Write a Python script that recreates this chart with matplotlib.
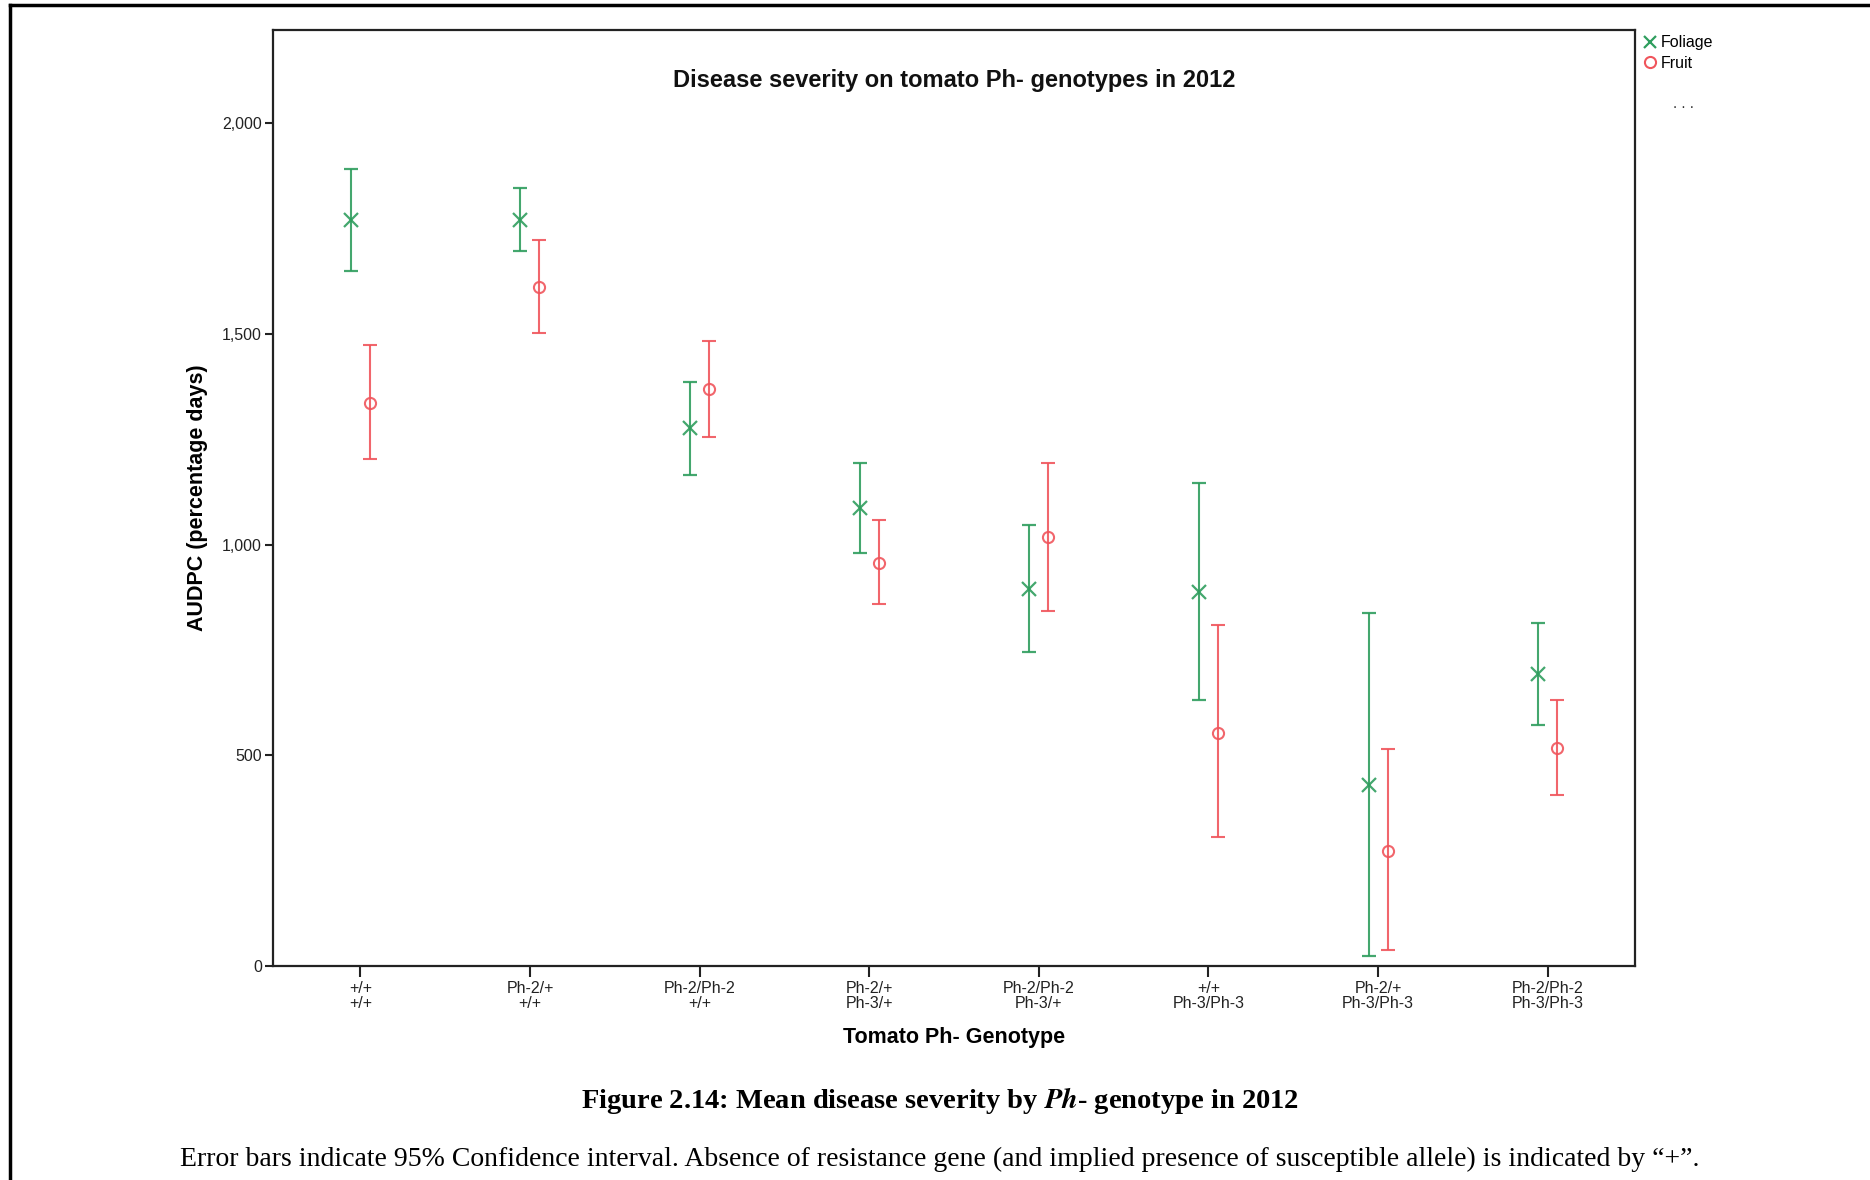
import matplotlib
matplotlib.use("Agg")
import matplotlib.pyplot as plt
import numpy as np
from matplotlib.lines import Line2D
from matplotlib.ticker import FuncFormatter

# ---- data ----
genotype_ph2 = ['+/+', 'Ph-2/+', 'Ph-2/Ph-2', 'Ph-2/+', 'Ph-2/Ph-2', '+/+', 'Ph-2/+', 'Ph-2/Ph-2']
genotype_ph3 = ['+/+', '+/+', '+/+', 'Ph-3/+', 'Ph-3/+', 'Ph-3/Ph-3', 'Ph-3/Ph-3', 'Ph-3/Ph-3']

foliage_mean = [1771, 1771, 1276, 1086, 894, 888, 430, 693]
foliage_low = [1649, 1697, 1166, 979, 744, 631, 23, 571]
foliage_high = [1890, 1847, 1386, 1194, 1047, 1146, 837, 815]

fruit_mean = [1335, 1612, 1369, 956, 1018, 554, 274, 518]
fruit_low = [1202, 1502, 1256, 860, 843, 305, 37, 405]
fruit_high = [1474, 1723, 1482, 1058, 1194, 809, 515, 631]

yticks = [0, 500, 1000, 1500, 2000]

GREEN = '#2f9e5e'
RED = '#f0555c'

plt.rcParams['font.family'] = ['Liberation Sans', 'DejaVu Sans']
plt.rcParams['mathtext.fontset'] = 'stix'

fig = plt.figure(figsize=(18.7, 11.8), dpi=100)
ax = fig.add_axes([273 / 1870, 214 / 1180, (1635 - 273) / 1870, (966 - 30) / 1180])

x = np.arange(len(genotype_ph2))
off = 0.056

fm = np.array(foliage_mean)
ax.errorbar(x - off, fm, yerr=[fm - np.array(foliage_low), np.array(foliage_high) - fm],
            fmt='x', color=GREEN, ecolor=GREEN, elinewidth=1.5, capsize=5, capthick=1.5,
            markersize=10, markeredgewidth=1.6, alpha=0.9)
fr = np.array(fruit_mean)
ax.errorbar(x + off, fr, yerr=[fr - np.array(fruit_low), np.array(fruit_high) - fr],
            fmt='o', color=RED, ecolor=RED, elinewidth=1.5, capsize=5, capthick=1.5,
            markersize=8, markeredgewidth=1.5, markerfacecolor='none', alpha=0.9)

ax.set_xlim(-0.515, 7.515)
ax.set_ylim(0, 2221)
ax.set_yticks(yticks)
ax.yaxis.set_major_formatter(FuncFormatter(lambda v, p: f'{int(v):,}'))
ax.set_xticks(x)
ax.set_xticklabels([f'{a}\n{b}' for a, b in zip(genotype_ph2, genotype_ph3)],
                   fontsize=11.5, linespacing=0.95)
ax.tick_params(axis='y', direction='out', length=6, width=1.5, labelsize=11.5, pad=2, colors='#222222')
ax.tick_params(axis='x', direction='out', length=8, width=1.5, pad=3, colors='#222222')
for s in ax.spines.values():
    s.set_linewidth(1.6)
    s.set_color('#222222')

ax.set_title('Disease severity on tomato Ph- genotypes in 2012', fontsize=17, fontweight='bold',
             y=0.937, va='center', color='#111111')
ax.set_ylabel('AUDPC (percentage days)', fontsize=15.5, fontweight='bold', labelpad=10)
ax.set_xlabel('Tomato Ph- Genotype', fontsize=15.5, fontweight='bold', labelpad=12)

handles = [Line2D([], [], linestyle='none', marker='x', color=GREEN, markersize=9, markeredgewidth=1.6),
           Line2D([], [], linestyle='none', marker='o', color=RED, markersize=8,
                  markerfacecolor='none', markeredgewidth=1.5)]
fig.legend(handles, ['Foliage', 'Fruit'], loc='upper left',
           bbox_to_anchor=(1634 / 1870, 1 - 29 / 1180), frameon=False, fontsize=11.5,
           handletextpad=0.1, labelspacing=0.35, handlelength=1.2, borderaxespad=0)
fig.text(1683 / 1870, 1 - 104 / 1180, '. . .', ha='center', va='center', fontsize=11, color='#333333')

# captions
fig.text(940 / 1870, 1 - 1101 / 1180,
         r'Figure 2.14: Mean disease severity by $\mathbfit{Ph}$- genotype in 2012',
         ha='center', va='center', fontsize=20.5, fontweight='bold', family='Liberation Serif')
fig.text(940 / 1870, 1 - 1159 / 1180,
         'Error bars indicate 95% Confidence interval. Absence of resistance gene (and implied presence of susceptible allele) is indicated by \u201c+\u201d.',
         ha='center', va='center', fontsize=20, family='Liberation Serif')

# page frame
fig.add_artist(Line2D([10 / 1870, 10 / 1870], [0, 1 - 5 / 1180], transform=fig.transFigure,
                      color='black', linewidth=2.5))
fig.add_artist(Line2D([10 / 1870, 1], [1 - 5 / 1180, 1 - 5 / 1180], transform=fig.transFigure,
                      color='black', linewidth=2.5))

fig.savefig('out.png', dpi=100)
